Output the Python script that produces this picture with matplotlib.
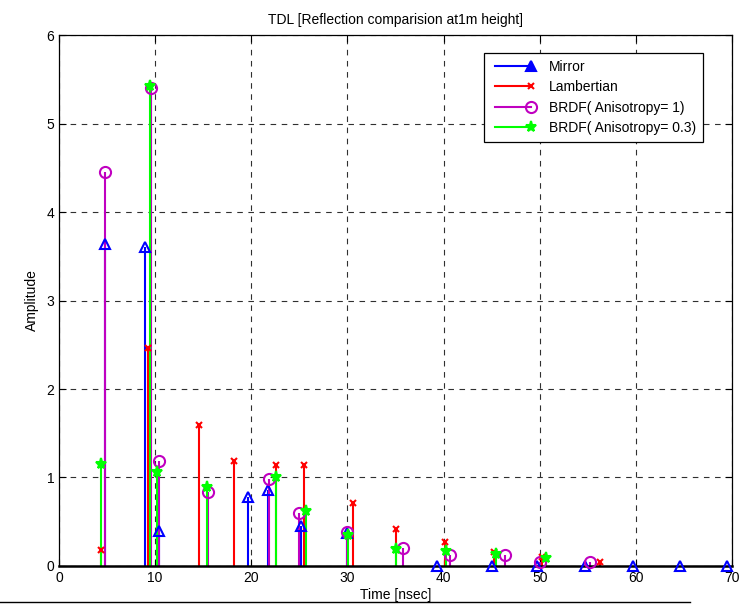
import numpy as np
import matplotlib
matplotlib.use('Agg')
import matplotlib.pyplot as plt
from matplotlib.lines import Line2D
from matplotlib.legend_handler import HandlerLine2D

plt.rcParams['font.family'] = ['Liberation Sans', 'DejaVu Sans']
plt.rcParams['font.size'] = 10

# Data (time in nsec, amplitude)
mirror_t = [4.78, 8.98, 10.4, 19.66, 21.77, 25.2, 30.0, 39.3, 45.0, 49.75, 54.7, 59.7, 64.6, 69.5]
mirror_a = [3.64, 3.61, 0.40, 0.78, 0.86, 0.45, 0.37, 0.0, 0.0, 0.0, 0.0, 0.0, 0.0, 0.0]

lamb_t = [4.33, 9.29, 14.6, 18.2, 22.6, 25.5, 30.6, 35.05, 40.15, 45.2, 50.2, 56.3]
lamb_a = [0.18, 2.46, 1.59, 1.19, 1.14, 1.14, 0.71, 0.42, 0.27, 0.16, 0.10, 0.05]

brdf1_t = [4.78, 9.6, 10.44, 15.5, 21.8, 25.0, 30.0, 35.75, 40.7, 46.4, 50.0, 55.2]
brdf1_a = [4.45, 5.40, 1.19, 0.84, 0.98, 0.60, 0.38, 0.20, 0.12, 0.12, 0.05, 0.05]

brdf03_t = [4.33, 9.45, 10.16, 15.36, 22.6, 25.7, 30.1, 35.1, 40.3, 45.5, 50.65]
brdf03_a = [1.15, 5.43, 1.06, 0.89, 1.00, 0.62, 0.35, 0.19, 0.17, 0.13, 0.09]

series = [
    ('Mirror', mirror_t, mirror_a, '#0000ff', '^', 7, 'none'),
    ('Lambertian', lamb_t, lamb_a, '#ff0000', 'x', 4, 'none'),
    ('BRDF( Anisotropy= 1)', brdf1_t, brdf1_a, '#c000c0', 'o', 8, 'none'),
    ('BRDF( Anisotropy= 0.3)', brdf03_t, brdf03_a, '#00ff00', '*', 8, '#00ff00'),
]


class MarkerAtEnd(HandlerLine2D):
    # MATLAB-style legend entry: line with the marker only at its right end
    def create_artists(self, *args, **kwargs):
        arts = super().create_artists(*args, **kwargs)
        for a in arts:
            n = len(a.get_xdata())
            a.set_markevery([n - 1])
        return arts


fig = plt.figure(figsize=(7.42, 6.05), dpi=100)
ax = fig.add_axes([0.0795, 0.0645, 0.907, 0.8775])

handles = []
for name, t, a, color, marker, ms, mfc in series:
    markerline, stemlines, baseline = ax.stem(t, a, basefmt=' ')
    plt.setp(stemlines, color=color, linewidth=1.5)
    plt.setp(markerline, color=color, marker=marker, markersize=ms,
             markerfacecolor=mfc, markeredgecolor=color, markeredgewidth=1.5,
             clip_on=False, zorder=3)
    # legend markers look filled in the original
    leg_mfc = color if marker != 'o' else 'none'
    h = Line2D([0, 1], [0, 0], color=color, linewidth=1.5, marker=marker,
               markersize=ms, markerfacecolor=leg_mfc, markeredgecolor=color,
               markeredgewidth=1.5)
    handles.append(h)

ax.set_xlim(0, 70)
ax.set_ylim(0, 6)
ax.set_xticks(np.arange(0, 71, 10))
ax.set_yticks(np.arange(0, 7, 1))
ax.grid(True, linestyle=(0, (5, 5)), color='#303030', linewidth=0.8)
ax.set_axisbelow(True)
ax.tick_params(direction='in', top=True, right=True, length=5, width=0.8, labelsize=10)
for s in ax.spines.values():
    s.set_linewidth(0.9)
ax.spines['bottom'].set_linewidth(1.8)

ax.set_xlabel('Time [nsec]', fontsize=10, labelpad=2)
ax.set_ylabel('Amplitude', fontsize=10, labelpad=5)
ax.set_title('TDL [Reflection comparision at1m height]', fontsize=10, pad=8)

leg = ax.legend(handles, [s[0] for s in series], loc='upper right',
                bbox_to_anchor=(0.957, 0.966), borderaxespad=0, numpoints=2,
                handler_map={Line2D: MarkerAtEnd()},
                fancybox=False, framealpha=1, edgecolor='k', fontsize=10,
                handlelength=3.2, handletextpad=1.0, labelspacing=0.45,
                borderpad=0.5)
leg.get_frame().set_linewidth(0.9)

# thin rule along the bottom edge, as in the original screenshot
fig.add_artist(Line2D([0, 0.93], [0.005, 0.005], color='k', linewidth=1.0,
                      transform=fig.transFigure))

plt.savefig('out.png', dpi=100)
plt.close()
